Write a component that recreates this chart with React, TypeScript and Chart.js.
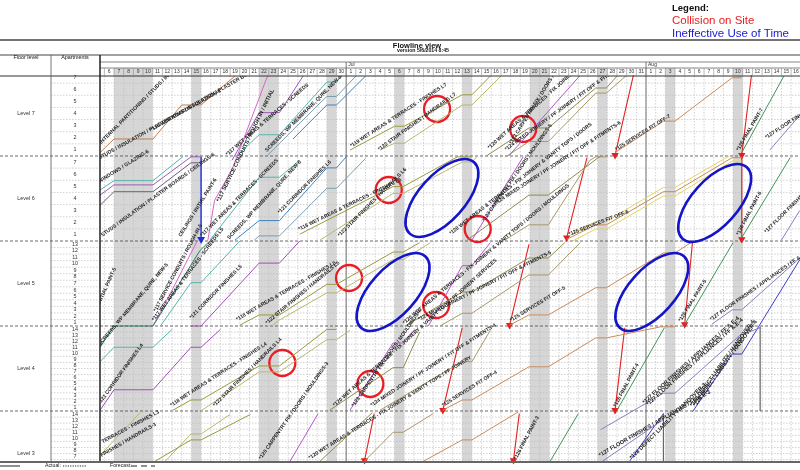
import React, { useEffect, useRef } from "react";
import { Chart, registerables } from "chart.js";
Chart.register(...registerables);

type Pt = [number, number];
interface Series { task: string; pts: Pt[] }
interface TaskLabel { text: string; at: Pt; angle: number; bold?: boolean }

// ---------- calendar (x = day index, 0 = 6 Jun) ----------
const junDays = [6, 7, 8, 9, 10, 11, 12, 13, 14, 15, 16, 17, 18, 19, 20, 21, 22, 23, 24, 25, 26, 27, 28, 29, 30];
const julDays = [1, 2, 3, 4, 5, 6, 7, 8, 9, 10, 11, 12, 13, 14, 15, 16, 17, 18, 19, 20, 21, 22, 23, 24, 25, 26, 27, 28, 29, 30, 31];
const augDays = [1, 2, 3, 4, 5, 6, 7, 8, 9, 10, 11, 12, 13, 14, 15, 16];
const monthNames = ["Jul", "Aug"];
const monthStarts = [25, 56];
const nonWorkStarts = [1, 9, 16, 23, 30, 37, 44, 51, 58, 65];
const nonWorkEnds = [5, 10, 18, 24, 31, 38, 46, 52, 59, 66];

// ---------- floors (y = level + apartment fraction) ----------
const levelNames = ["Level 7", "Level 6", "Level 5", "Level 4", "Level 3"];
const levelBases = [7, 6, 5, 4, 3];
const apartmentCounts = [7, 7, 13, 14, 14];

// ---------- flowlines ----------
const level7Series: Series[] = [
  { task: "partition", pts: [[-0.44, 7.04], [1, 7.2], [5.03, 7.2], [8, 7.6], [10, 7.6], [13.6, 7.95]] },
  { task: "services", pts: [[10.7, 6.01], [11.4, 6.48], [13.2, 6.84], [16.9, 7.95]] },
  { task: "windows", pts: [[13.2, 6.95], [16, 7.51], [18.1, 7.51], [20.6, 7.95]] },
  { task: "screeds", pts: [[13.6, 6.99], [16, 7.25], [18.1, 7.25], [23, 7.87], [24, 7.87], [24.6, 7.95]] },
  { task: "membrane", pts: [[16.8, 7.0], [22, 7.59], [23, 7.7], [24, 7.7], [26, 7.94]] },
  { task: "corridorB", pts: [[19.5, 7.2], [23, 7.6], [24, 7.6], [27, 7.94]] },
  { task: "finishes", pts: [[25.4, 7.07], [30, 7.35], [31, 7.35], [37, 7.72], [38, 7.72], [39.9, 7.94]] },
  { task: "stairs", pts: [[28.5, 7.07], [30, 7.15], [31, 7.15], [37, 7.6], [38, 7.6], [41, 7.94]] },
  { task: "joinery", pts: [[39.5, 7.0], [43.9, 7.33], [45.9, 7.33], [50.8, 7.8], [51.9, 7.8], [53, 7.94]] },
  { task: "carpentry", pts: [[41.8, 7.0], [49.2, 7.95]] },
  { task: "mixed", pts: [[41.5, 6.99], [43.9, 7.17], [45.9, 7.17], [50.8, 7.74], [51.9, 7.74], [54, 7.95]] },
  { task: "fitoff", pts: [[52.8, 7.04], [57.8, 7.41], [59, 7.41], [64.9, 7.92], [65.9, 7.92]] },
  { task: "paint", pts: [[65.9, 7.04], [70.3, 7.95]] },
  { task: "floor", pts: [[68.8, 7.07], [71.9, 7.48]] },
];

const level6Series: Series[] = [
  { task: "screeds", pts: [[-0.44, 6.6], [1, 6.71], [5.03, 6.71], [8.1, 6.99]] },
  { task: "windows", pts: [[-0.44, 6.54], [1, 6.66], [5.03, 6.66], [8.96, 6.99], [10, 6.99]] },
  { task: "studs", pts: [[-0.44, 6.42], [1, 6.58], [5.03, 6.58], [8.96, 6.92], [10, 6.92]] },
  { task: "screeds", pts: [[10.9, 6.01], [16, 6.75], [18.1, 6.75], [20.2, 6.95]] },
  { task: "membrane", pts: [[15.5, 6.01], [16, 6.06], [18.1, 6.06], [23, 6.62], [24, 6.62], [27, 6.97]] },
  { task: "corridorB", pts: [[13.5, 6.01], [16, 6.24], [18.1, 6.24], [23, 6.86], [24, 6.86], [25, 6.99]] },
  { task: "finishes", pts: [[20.2, 6.08], [29.85, 6.64], [30.9, 6.64], [36.5, 6.99], [38, 6.99]] },
  { task: "stairs", pts: [[22.3, 6.01], [29.85, 6.56], [30.9, 6.56], [37, 6.93], [38, 6.93], [38.5, 6.99]] },
  { task: "joinery", pts: [[37.5, 6.01], [43.9, 6.54], [45.9, 6.54], [51.3, 7.0]] },
  { task: "carpentry", pts: [[38, 6.01], [43.3, 6.99]] },
  { task: "mixed", pts: [[41.4, 6.01], [43.9, 6.19], [45.9, 6.19], [50.2, 6.95], [50.8, 6.99], [51.9, 6.99]] },
  { task: "fitoff", pts: [[47.8, 6.02], [50.8, 6.19], [51.9, 6.19], [57.8, 6.58], [59, 6.58], [64.9, 6.98], [65.9, 6.98]] },
  { task: "fitoffAlt", pts: [[48.1, 6.06], [50.8, 6.23], [51.9, 6.23], [57.8, 6.63], [59, 6.63], [64.6, 7.0]] },
  { task: "fitoffAlt", pts: [[48.4, 6.0], [50.8, 6.14], [51.9, 6.14], [57.8, 6.53], [59, 6.53], [64.9, 6.94], [65.9, 6.94]] },
  { task: "paint", pts: [[65.9, 6.04], [70.9, 6.98]] },
  { task: "floor", pts: [[70, 6.01], [71.9, 6.36]] },
];

const level5Series: Series[] = [
  { task: "membraneDark", pts: [[-0.44, 4.75], [1, 5.0], [5.03, 5.0], [9.9, 5.89], [10.9, 6.0]] },
  { task: "screeds", pts: [[5.8, 5.0], [8.96, 5.51], [10, 5.51], [14, 6.0]] },
  { task: "services", pts: [[5.0, 5.0], [6.0, 5.2], [9.6, 6.0]] },
  { task: "corridor", pts: [[8.96, 5.0], [10, 5.0], [16, 5.74], [18.1, 5.74], [20.2, 6.0]] },
  { task: "finishes", pts: [[14, 5.01], [16, 5.13], [18.1, 5.13], [23, 5.49], [24, 5.49], [29.85, 5.87], [30.9, 5.87], [32.6, 5.98]] },
  { task: "stairs", pts: [[17.3, 5.0], [18.1, 5.07], [23, 5.39], [24, 5.39], [29.85, 5.78], [30.9, 5.78], [33.7, 5.98]] },
  { task: "joinery", pts: [[31.1, 5.0], [37, 5.4], [38, 5.4], [43.9, 5.8], [45.9, 5.8], [47.6, 5.98]] },
  { task: "carpentry", pts: [[33.5, 5.0], [37, 5.71], [38, 5.71], [39.9, 5.98]] },
  { task: "mixed", pts: [[34.7, 5.0], [37, 5.15], [38, 5.15], [43.9, 5.6], [45.9, 5.6], [49.2, 5.98]] },
  { task: "fitoff", pts: [[41.9, 5.01], [43.9, 5.13], [45.9, 5.13], [50.8, 5.45], [51.9, 5.45], [57.8, 5.86], [59, 5.86], [60.9, 6.0]] },
  { task: "paint", pts: [[60, 5.02], [65, 5.98]] },
  { task: "floor", pts: [[62.8, 5.02], [64.9, 5.19], [65.9, 5.19], [71.9, 5.8]] },
];

const level4Series: Series[] = [
  { task: "screeds", pts: [[-0.44, 4.58], [1, 4.75], [5.03, 4.75], [7, 4.96]] },
  { task: "corridor", pts: [[-0.44, 4.01], [1, 4.25], [5.03, 4.25], [8.96, 4.75], [10, 4.75], [12, 4.96]] },
  { task: "finishes", pts: [[7.1, 4.01], [8.96, 4.13], [10, 4.13], [16, 4.53], [18.1, 4.53], [23, 4.96], [24, 4.96]] },
  { task: "stairs", pts: [[10.1, 4.01], [16, 4.46], [18.1, 4.46], [23, 4.84], [24, 4.84], [25.4, 4.95]] },
  { task: "joinery", pts: [[23.3, 4.01], [29.85, 4.51], [30.9, 4.51], [32.6, 4.93]] },
  { task: "carpentry", pts: [[25.4, 4.01], [29.85, 4.8], [30.9, 4.8], [32.1, 4.96]] },
  { task: "mixed", pts: [[28.5, 4.01], [37, 4.58], [38, 4.58], [39.9, 4.95]] },
  { task: "fitoff", pts: [[35, 4.01], [37, 4.13], [38, 4.13], [43.9, 4.52], [45.9, 4.52], [50.8, 4.86], [51.9, 4.86], [57.5, 4.99], [59, 4.99]] },
  { task: "paint", pts: [[53, 4.01], [57.9, 4.98]] },
  { task: "marker", pts: [[67.8, 4.99], [67.8, 4.0]] },
  { task: "floor", pts: [[51.3, 3.78], [57.8, 4.21], [59, 4.21], [65.7, 4.89], [67.8, 4.98]] },
  { task: "defect", pts: [[60.8, 3.99], [64.9, 4.67], [65.9, 4.67], [71.9, 5.78]] },
];

const level3Series: Series[] = [
  { task: "finishes", pts: [[5.25, 3.41], [8.96, 3.66], [10, 3.66], [15.1, 3.96]] },
  { task: "stairs", pts: [[6.3, 3.41], [8.96, 3.73], [10, 3.73], [13, 3.96]] },
  { task: "stairs", pts: [[-0.44, 3.48], [3.7, 3.98]] },
  { task: "carpentry", pts: [[19.2, 3.41], [22.1, 3.97]] },
  { task: "joinery", pts: [[22.3, 3.41], [27.7, 3.98]] },
  { task: "mixed", pts: [[26.9, 3.41], [29.85, 3.75], [30.9, 3.75], [34, 3.97]] },
  { task: "fitoff", pts: [[33, 3.41], [37, 3.66], [38, 3.66], [42.8, 3.99]] },
  { task: "paint", pts: [[46.1, 3.41], [49, 3.97]] },
  { task: "floor", pts: [[51.5, 3.41], [57.8, 3.9]] },
  { task: "defect", pts: [[54.3, 3.41], [57.8, 3.97]] },
  { task: "marker", pts: [[57.8, 3.97], [57.8, 3.41]] },
];

const collisionArrows: Pt[][] = [
  [[54.7, 7.95], [52.8, 7.01]],
  [[66.9, 7.95], [65.9, 7.01]],
  [[65.9, 6.99], [65.9, 6.02]],
  [[49.9, 6.98], [47.8, 6.04]],
  [[43.9, 5.96], [41.9, 5.01]],
  [[60.8, 5.98], [60.0, 5.02]],
  [[37.0, 4.98], [35.0, 4.01]],
  [[53.8, 4.98], [52.8, 4.01]],
  [[27.9, 3.97], [26.9, 3.42]],
  [[42.9, 3.97], [42.3, 3.42]],
];
const holdArrows: Pt[][] = [[[10, 6.99], [10, 6.02]]];

const collisionCircles: Pt[] = [
  [34.4, 7.553], [43.3, 7.318], [29.4, 6.6], [38.6, 6.141],
  [25.3, 5.565], [34.3, 5.247], [18.4, 4.565], [27.5, 4.318],
];
const idleEllipses: Pt[] = [[34.9, 6.506], [29.85, 5.4], [63.1, 6.447], [56.6, 5.4]];

const taskLabels: TaskLabel[] = [
  { text: "INTERNAL PARTITIONING / STUDS / INSULATION / INITIAL", at: [-0.24, 7.13], angle: -45 },
  { text: "*116 WINDOWS / INSULATION / PLASTER BOARDS / CEILINGS-8", at: [4.93, 7.28], angle: -30 },
  { text: "STUDS / INSULATION / PLASTER BOARDS / CEILINGS-8", at: [-0.43, 6.95], angle: -29 },
  { text: "*117 SERVICE CONDUITS / ROUGH IN / INITIAL", at: [12.0, 6.45], angle: -64, bold: true },
  { text: "*117 WET AREAS & TERRACES - SCREEDS", at: [12.8, 6.99], angle: -41 },
  { text: "SCREEDS, WP MEMBRANE, QURE, NEW-8", at: [16.9, 7.04], angle: -45 },
  { text: "*119 WET AREAS & TERRACES - FINISHES L7", at: [25.6, 7.09], angle: -33 },
  { text: "*122 STAIR FINISHES / HANDRAILS L7", at: [28.5, 7.05], angle: -36 },
  { text: "*120 WET AREAS & TERRACES - FIX JOINERY & VANITY TOPS", at: [39.9, 7.07], angle: -42 },
  { text: "*123 CARPENTRY FIX / DOORS / MOULDINGS-7", at: [42.2, 7.13], angle: -58 },
  { text: "*124 MIXED JOINERY / PF JOINERY / FIT OFF & FITMENTS-7", at: [41.6, 7.05], angle: -36 },
  { text: "*125 SERVICES FIT OFF-7", at: [53.0, 7.05], angle: -32 },
  { text: "*126 FINAL PAINT-7", at: [65.7, 7.05], angle: -60 },
  { text: "*127 FLOOR FINISHES / APPLIANCES L7", at: [68.5, 7.19], angle: -33 },
  { text: "STUDS / INSULATION / PLASTER BOARDS / CEILINGS-6", at: [-0.13, 6.04], angle: -36 },
  { text: "WINDOWS / GLAZING-6", at: [-0.44, 6.67], angle: -32 },
  { text: "CEILINGS / INITIAL PAINT-6", at: [8.0, 6.04], angle: -58 },
  { text: "*117 WET AREAS & TERRACES - SCREEDS", at: [10.2, 6.04], angle: -45 },
  { text: "SCREEDS, WP MEMBRANE, QURE, NEW-6", at: [13.0, 6.01], angle: -47 },
  { text: "*121 CORRIDOR FINISHES L6", at: [18.2, 6.31], angle: -45 },
  { text: "*118 WET AREAS & TERRACES - FINISHES L6", at: [20.2, 6.11], angle: -26 },
  { text: "*122 STAIR FINISHES / HANDRAILS L6", at: [24.4, 6.04], angle: -45 },
  { text: "*120 WET AREAS & TERRACES - FIX JOINERY & VANITY TOPS / DOORS", at: [35.9, 6.06], angle: -38 },
  { text: "*123 CARPENTRY FIX / DOORS / MOULDINGS-6", at: [39.4, 6.22], angle: -55 },
  { text: "*124 MIXED JOINERY / PF JOINERY / FIT OFF & FITMENTS-6", at: [40.6, 6.42], angle: -33 },
  { text: "*125 SERVICES FIT OFF-6", at: [48.1, 6.05], angle: -21 },
  { text: "*126 FINAL PAINT-6", at: [65.7, 6.06], angle: -62 },
  { text: "*127 FLOOR FINISHES / APPLIANCES L6", at: [68.5, 6.08], angle: -45 },
  { text: "INITIAL PAINT-5", at: [-0.33, 5.25], angle: -66 },
  { text: "SCREEDS, WP MEMBRANE, QURE, NEW-5", at: [-0.33, 4.76], angle: -50 },
  { text: "*117 SERVICE CONDUITS / ROUGH-IN-5", at: [5.45, 5.16], angle: -62 },
  { text: "*117 WET AREAS & TERRACES - SCREEDS L5", at: [5.24, 5.05], angle: -53 },
  { text: "*121 CORRIDOR FINISHES L5", at: [9.08, 5.07], angle: -46 },
  { text: "*118 WET AREAS & TERRACES - FINISHES L5", at: [13.8, 5.05], angle: -30 },
  { text: "*122 STAIR FINISHES / HANDRAILS L5", at: [16.9, 5.01], angle: -40 },
  { text: "*120 WET AREAS & TERRACES - FIX JOINERY & VANITY TOPS / DOORS / MOULDINGS", at: [31.1, 5.01], angle: -40 },
  { text: "*124 MIXED JOINERY / PF JOINERY / FIT OFF & FITMENTS-5", at: [32.6, 5.05], angle: -27 },
  { text: "*125 SERVICES FIT OFF-5", at: [42.1, 5.04], angle: -31 },
  { text: "*126 FINAL PAINT-5", at: [59.7, 5.04], angle: -58 },
  { text: "*127 FLOOR FINISHES / APPLIANCES / FF & E-5", at: [62.8, 5.05], angle: -35 },
  { text: "*121 CORRIDOR FINISHES L4", at: [-0.33, 4.07], angle: -54 },
  { text: "*118 WET AREAS & TERRACES - FINISHES L4", at: [7.0, 4.04], angle: -33 },
  { text: "*122 STAIR FINISHES / HANDRAILS L4", at: [11.5, 4.04], angle: -45 },
  { text: "*120 WET AREAS & TERRACES - FIX JOINERY & VANITY TOPS / PF JOINERY SERVICES", at: [23.9, 4.04], angle: -42 },
  { text: "*123 CARPENTRY FIX / DOORS / MOULDINGS-4", at: [25.9, 4.04], angle: -55 },
  { text: "*124 MIXED JOINERY / PF JOINERY / FIT OFF & FITMENTS-4", at: [27.7, 4.04], angle: -33 },
  { text: "*125 SERVICES FIT OFF-4", at: [35.1, 4.04], angle: -32 },
  { text: "*126 FINAL PAINT-4", at: [53.0, 4.04], angle: -62 },
  { text: "*127 FLOOR FINISHES / APPLIANCES / FF & E-4", at: [55.9, 4.07], angle: -42, bold: true },
  { text: "*127 FLOOR FINISHES / APPLIANCES / FF & E-4", at: [56.3, 4.05], angle: -42, bold: true },
  { text: "*128 DEFECT LIABILITY / HANDOVER-4", at: [60.9, 4.04], angle: -54, bold: true },
  { text: "*128 DEFECT LIABILITY / HANDOVER-4", at: [61.2, 4.04], angle: -54, bold: true },
  { text: "FINISHES / HANDRAILS-3", at: [-0.23, 3.45], angle: -30 },
  { text: "TERRACES - FINISHES L3", at: [-0.13, 3.61], angle: -28 },
  { text: "*120 CARPENTRY FIX / DOORS / MOULDINGS-3", at: [16.3, 3.42], angle: -55 },
  { text: "*120 WET AREAS & TERRACES - FIX JOINERY & VANITY TOPS / PF JOINERY", at: [21.3, 3.42], angle: -32 },
  { text: "*126 FINAL PAINT-3", at: [42.7, 3.42], angle: -62 },
  { text: "*127 FLOOR FINISHES / APPLIANCES / FF & E-3", at: [51.3, 3.45], angle: -30, bold: true },
  { text: "*128 DEFECT LIABILITY / HANDOVER-3", at: [54.6, 3.42], angle: -45, bold: true },
];

// ---------- styles ----------
const TASK_COLORS: Record<string, string> = {
  partition: "#c27b4e", studs: "#6e5f80", windows: "#9d5bb8", screeds: "#55b5aa",
  membrane: "#7c9db0", membraneDark: "#2f7a68", services: "#d765c6", corridorB: "#3d82c2",
  corridor: "#a24db6", finishes: "#9a9a3c", stairs: "#b8b870", joinery: "#8f8a4e",
  carpentry: "#b456cc", mixed: "#a89868", fitoff: "#c98b5c", fitoffAlt: "#e0d65e",
  paint: "#3f9458", floor: "#8880c4", defect: "#3c3cc8", marker: "#666666",
  collision: "#e32020", hold: "#1f2fd8",
};
const FONT = '"Liberation Sans", Arial, sans-serif';

const flowPlugin = {
  id: "flowline",
  beforeDatasetsDraw(chart: any) {
    const { ctx, chartArea: a, scales } = chart;
    const xs = scales.x, ys = scales.y;
    const seg = (x1: number, y1: number, x2: number, y2: number) => {
      ctx.beginPath(); ctx.moveTo(x1, y1); ctx.lineTo(x2, y2); ctx.stroke();
    };
    ctx.save();
    ctx.fillStyle = "#d6d6d6";
    nonWorkStarts.forEach((s, i) => {
      const x0 = Math.max(a.left, xs.getPixelForValue(s));
      const x1 = xs.getPixelForValue(nonWorkEnds[i]);
      ctx.fillRect(x0, a.top - 8, x1 - x0, a.bottom - a.top + 8);
    });
    ctx.strokeStyle = "#bdbdbd"; ctx.lineWidth = 0.7; ctx.setLineDash([1.5, 1.5]);
    for (let d = 0; d <= 72; d++) {
      const px = xs.getPixelForValue(d);
      if (px <= a.left || px >= a.right) continue;
      seg(px, a.top, px, a.bottom);
    }
    levelBases.forEach((L, i) => {
      const n = apartmentCounts[i];
      for (let k = 1; k < n; k++) {
        const v = L + k / n;
        if (v <= ys.min || v >= ys.max) continue;
        const py = ys.getPixelForValue(v);
        seg(a.left - 49, py, a.right, py);
      }
    });
    ctx.setLineDash([3, 2]); ctx.strokeStyle = "#444"; ctx.lineWidth = 0.8;
    levelBases.forEach((L) => {
      if (L <= ys.min || L >= ys.max) return;
      const py = ys.getPixelForValue(L);
      seg(0, py, a.right, py);
    });
    ctx.setLineDash([]);
    ctx.strokeStyle = "#666"; ctx.lineWidth = 0.9;
    monthStarts.forEach((m) => {
      const px = xs.getPixelForValue(m);
      seg(px, a.top - 14, px, a.bottom);
    });
    ctx.restore();
  },
  afterDatasetsDraw(chart: any) {
    const { ctx, chartArea: a, scales } = chart;
    const xs = scales.x, ys = scales.y;
    ctx.save();
    ctx.beginPath(); ctx.rect(a.left, a.top, a.right - a.left, a.bottom - a.top); ctx.clip();
    ctx.fillStyle = "#1c1c1c"; ctx.textBaseline = "alphabetic"; ctx.textAlign = "left";
    taskLabels.forEach((l) => {
      ctx.save();
      ctx.translate(xs.getPixelForValue(l.at[0]), ys.getPixelForValue(l.at[1]));
      ctx.rotate((l.angle * Math.PI) / 180);
      ctx.font = (l.bold ? "bold 5.6px " : "600 5.2px ") + FONT;
      ctx.fillText(l.text, 0, -1);
      ctx.restore();
    });
    ctx.strokeStyle = "#1515c8"; ctx.lineWidth = 2.6;
    idleEllipses.forEach(([ex, ey]) => {
      ctx.beginPath();
      ctx.ellipse(xs.getPixelForValue(ex), ys.getPixelForValue(ey), 48, 23, (-48 * Math.PI) / 180, 0, Math.PI * 2);
      ctx.stroke();
    });
    ctx.restore();
  },
  afterDraw(chart: any) {
    const { ctx, chartArea: a, scales } = chart;
    const xs = scales.x, ys = scales.y;
    const seg = (x1: number, y1: number, x2: number, y2: number) => {
      ctx.beginPath(); ctx.moveTo(x1, y1); ctx.lineTo(x2, y2); ctx.stroke();
    };
    const W = chart.width;
    ctx.save();
    ctx.strokeStyle = "#444"; ctx.lineWidth = 1.5; seg(0, a.top - 36, W, a.top - 36);
    ctx.lineWidth = 1; seg(0, a.top - 21, W, a.top - 21);
    ctx.strokeStyle = "#666"; ctx.lineWidth = 0.8;
    seg(a.left, a.top - 14, W, a.top - 14);
    seg(a.left, a.top - 8, W, a.top - 8);
    ctx.strokeStyle = "#333"; ctx.lineWidth = 1; seg(0, a.top, W, a.top);
    ctx.strokeStyle = "#555"; ctx.lineWidth = 0.8; seg(a.left - 49, a.top - 21, a.left - 49, a.bottom);
    ctx.strokeStyle = "#222"; ctx.lineWidth = 1.5; seg(a.left, a.top - 21, a.left, a.bottom);
    ctx.strokeStyle = "#666"; ctx.lineWidth = 2; seg(0, a.bottom + 1, W, a.bottom + 1);

    ctx.fillStyle = "#111"; ctx.textAlign = "center"; ctx.textBaseline = "middle";
    ctx.font = "bold 7.5px " + FONT; ctx.fillText("Flowline view", 417, a.top - 30);
    ctx.font = "bold 5.2px " + FONT; ctx.fillText("version 5/6/2014 8:45", 423, a.top - 25);
    ctx.font = "5.4px " + FONT;
    ctx.fillText("Floor level", 26, a.top - 18);
    ctx.fillText("Apartments", 75, a.top - 18);

    ctx.strokeStyle = "#888"; ctx.lineWidth = 0.6;
    ctx.font = "5px " + FONT; ctx.fillStyle = "#333";
    const drawDays = (days: number[], offset: number) => {
      days.forEach((dd, i) => {
        const d = offset + i;
        const x0 = xs.getPixelForValue(d), x1 = xs.getPixelForValue(d + 1);
        if (x0 > a.left) seg(x0, a.top - 8, x0, a.top);
        ctx.fillText(String(dd), Math.max(a.left + 4, (x0 + x1) / 2), a.top - 4);
      });
    };
    drawDays(junDays, 0); drawDays(julDays, 25); drawDays(augDays, 56);
    ctx.textAlign = "left";
    monthNames.forEach((m, i) => ctx.fillText(m, xs.getPixelForValue(monthStarts[i]) + 2, a.top - 11));

    ctx.textAlign = "center"; ctx.font = "5.4px " + FONT; ctx.fillStyle = "#333";
    levelBases.forEach((L, i) => {
      const n = apartmentCounts[i];
      for (let r = 1; r <= n; r++) {
        const v = L + (r - 0.5) / n;
        if (v < ys.min || v > ys.max) continue;
        ctx.fillText(String(r), 75, ys.getPixelForValue(v));
      }
      ctx.fillText(levelNames[i], 26, ys.getPixelForValue(L + 0.5));
    });

    const fy = a.bottom + 5;
    ctx.textAlign = "left"; ctx.font = "5.2px " + FONT; ctx.fillStyle = "#222";
    ctx.strokeStyle = "#222"; ctx.lineWidth = 1; seg(0, fy, 20, fy);
    ctx.fillText("Actual:", 45, fy);
    ctx.setLineDash([1.2, 1.2]); seg(63, fy, 86, fy);
    ctx.fillText("Forecast:", 110, fy);
    ctx.setLineDash([6, 4]); seg(131, fy, 155, fy); ctx.setLineDash([]);

    ctx.textAlign = "left"; ctx.textBaseline = "middle";
    ctx.font = "bold 9.5px " + FONT; ctx.fillStyle = "#111"; ctx.fillText("Legend:", 672, 8);
    ctx.font = "11.5px " + FONT; ctx.fillStyle = "#ee1c1c"; ctx.fillText("Collision on Site", 672, 20.5);
    ctx.fillStyle = "#1a1ad0"; ctx.fillText("Ineffective Use of Time", 672, 33.5);
    ctx.restore();
  },
};

const allSeries: Series[] = [...level7Series, ...level6Series, ...level5Series, ...level4Series, ...level3Series];

export default function App() {
  const ref = useRef<HTMLCanvasElement>(null);
  useEffect(() => {
    const lineSets = allSeries.map((s) => ({
      type: "line" as const,
      data: s.pts.map(([x, y]) => ({ x, y })),
      borderColor: TASK_COLORS[s.task],
      borderWidth: s.task === "marker" ? 1.2 : 1,
      pointRadius: 0,
      tension: 0,
      fill: false,
    }));
    const arrowSets = [
      ...collisionArrows.map((p) => ({ p, c: TASK_COLORS.collision })),
      ...holdArrows.map((p) => ({ p, c: TASK_COLORS.hold })),
    ].map(({ p, c }) => ({
      type: "line" as const,
      data: p.map(([x, y]) => ({ x, y })),
      borderColor: c,
      borderWidth: c === TASK_COLORS.hold ? 1.4 : 1.1,
      pointRadius: [0, 3.2],
      pointStyle: "triangle",
      pointRotation: 180,
      pointBackgroundColor: c,
      pointBorderColor: c,
      tension: 0,
      fill: false,
      clip: false,
    }));
    const circleSet = {
      type: "scatter" as const,
      data: collisionCircles.map(([x, y]) => ({ x, y })),
      pointRadius: 13,
      pointBorderWidth: 2.3,
      pointBorderColor: "#ec1c24",
      pointBackgroundColor: "rgba(0,0,0,0)",
      showLine: false,
    };
    const chart = new Chart(ref.current as HTMLCanvasElement, {
      type: "line",
      data: { datasets: [...lineSets, ...arrowSets, circleSet] as any },
      options: {
        responsive: false,
        animation: false,
        events: [],
        layout: { autoPadding: false, padding: { left: 100, top: 76, right: 0, bottom: 9 } },
        scales: {
          x: { type: "linear", min: -0.45, max: 71.92, display: false },
          y: { type: "linear", min: 3.412, max: 7.941, display: false },
        },
        plugins: { legend: { display: false }, tooltip: { enabled: false } },
      },
      plugins: [flowPlugin],
    } as any);
    return () => chart.destroy();
  }, []);
  return (
    <div style={{ position: "fixed", left: 0, top: 0, width: 800, height: 470, background: "#fff" }}>
      <canvas ref={ref} width={800} height={470} style={{ width: 800, height: 470, display: "block" }} />
    </div>
  );
}
